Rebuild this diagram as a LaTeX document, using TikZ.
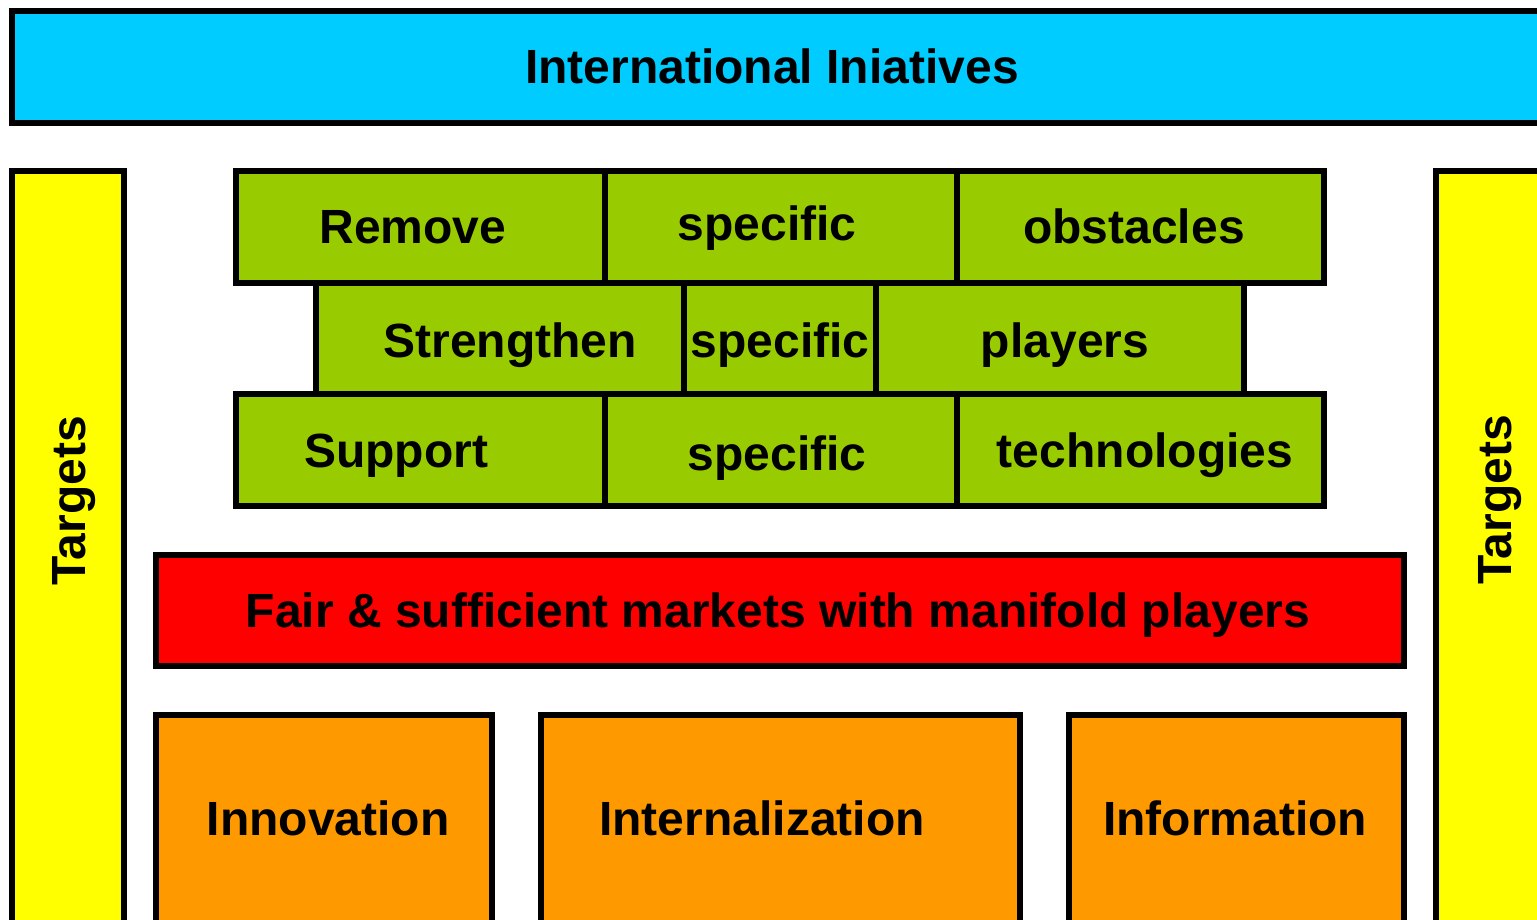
\documentclass[tikz,border=0pt]{standalone}
\usepackage{fontspec}
\setmainfont{Liberation Sans}
\usepackage{xcolor}
\definecolor{iniblue}{RGB}{0,204,255}
\definecolor{brickgreen}{RGB}{153,204,0}
\definecolor{targyellow}{RGB}{255,255,0}
\definecolor{marketred}{RGB}{255,0,0}
\definecolor{pillarorange}{RGB}{255,153,0}
\tikzset{
  box/.style={draw=black, line width=2.6pt},
  lbl/.style={font=\fontsize{24}{28}\selectfont\bfseries, inner sep=0pt, anchor=base}
}

\begin{document}
\begin{tikzpicture}[x=0.5pt,y=-0.5pt]
    \useasboundingbox (0,0) rectangle (1537,920);
    \clip (0,0) rectangle (1537,920);

    %Shape: top bar
    \draw [box, fill=iniblue] (12,11) rectangle (1570,123);
    %Shape: side bars
    \draw [box, fill=targyellow] (12,171) rectangle (124,960);
    \draw [box, fill=targyellow] (1436,171) rectangle (1570,960);

    %Shape: bricks, row 1
    \draw [box, fill=brickgreen] (236,171) rectangle (605,283);
    \draw [box, fill=brickgreen] (605,171) rectangle (957,283);
    \draw [box, fill=brickgreen] (957,171) rectangle (1324,283);
    %Shape: bricks, row 2
    \draw [box, fill=brickgreen] (316,283) rectangle (684,394);
    \draw [box, fill=brickgreen] (684,283) rectangle (876,394);
    \draw [box, fill=brickgreen] (876,283) rectangle (1244,394);
    %Shape: bricks, row 3
    \draw [box, fill=brickgreen] (236,394) rectangle (605,506);
    \draw [box, fill=brickgreen] (605,394) rectangle (957,506);
    \draw [box, fill=brickgreen] (957,394) rectangle (1324,506);

    %Shape: market bar
    \draw [box, fill=marketred] (156,555) rectangle (1404,666);
    %Shape: pillars
    \draw [box, fill=pillarorange] (156,715) rectangle (492,960);
    \draw [box, fill=pillarorange] (541,715) rectangle (1020,960);
    \draw [box, fill=pillarorange] (1069,715) rectangle (1404,960);

    % Text Node
    \node [lbl] (title) at (772,84) {International Iniatives};
    \node [lbl, rotate=90] (targetsL) at (85,501) {Targets};
    \node [lbl, rotate=90] (targetsR) at (1511,500) {Targets};
    % Text Node
    \node [lbl] (remove) at (413,243) {Remove};
    \node [lbl] (specA) at (767,240) {specific};
    \node [lbl] (obstacles) at (1134,243) {obstacles};
    % Text Node
    \node [lbl] (strengthen) at (510,357) {Strengthen};
    \node [lbl] (specB) at (780,357) {specific};
    \node [lbl] (players) at (1065,357) {players};
    % Text Node
    \node [lbl] (support) at (396,467) {Support};
    \node [lbl] (specC) at (777,470) {specific};
    \node [lbl] (technologies) at (1145,467) {technologies};
    % Text Node
    \node [lbl] (markets) at (778,627) {Fair \& sufficient markets with manifold players};
    % Text Node
    \node [lbl] (innovation) at (328,835) {Innovation};
    \node [lbl] (internal) at (762,835) {Internalization};
    \node [lbl] (information) at (1235,835) {Information};
\end{tikzpicture}
\end{document}
